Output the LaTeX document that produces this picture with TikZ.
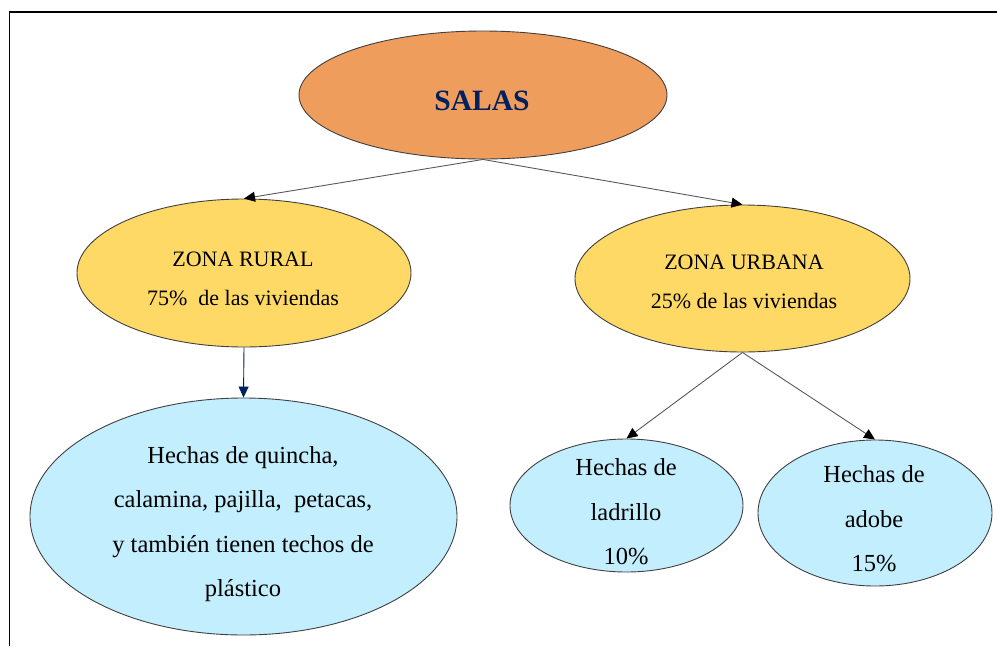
\documentclass[tikz,border=0pt]{standalone}
\usepackage{fontspec}
\setmainfont{Liberation Serif}
\usetikzlibrary{shapes.geometric,arrows.meta}
\definecolor{salasfill}{HTML}{EF9D5C}
\definecolor{zonafill}{HTML}{FFD966}
\definecolor{leaffill}{HTML}{C2EEFE}
\definecolor{navy}{HTML}{002060}
\definecolor{linkgray}{HTML}{595959}
\definecolor{outline}{HTML}{404040}
\begin{document}
\begin{tikzpicture}[x=1pt,y=-1pt,
  oval/.style={ellipse, draw=outline, line width=0.9pt, inner sep=0pt},
  zonatxt/.style={align=center, inner sep=0pt, font=\fontsize{22}{39.5}\selectfont},
  leaftxt/.style={align=center, inner sep=0pt, font=\fontsize{24.5}{44.5}\selectfont},
  link/.style={draw=linkgray, line width=0.9pt, -{Triangle[length=11pt,width=10pt,color=black]}},
  navylink/.style={draw=navy, line width=0.9pt, -{Triangle[length=11pt,width=10pt,color=navy]}},
  ]
\useasboundingbox (0,0) rectangle (997,646);
\draw[line width=1.3pt] (997,12) -- (9.5,12) -- (9.5,646);

% ellipses
\node[oval, fill=salasfill, minimum width=368pt, minimum height=128pt] (salas) at (483,95) {};
\node[oval, fill=zonafill, minimum width=334pt, minimum height=148pt] (rural) at (244,273) {};
\node[oval, fill=zonafill, minimum width=335pt, minimum height=147pt] (urbana) at (742.5,278.5) {};
\node[oval, fill=leaffill, minimum width=427pt, minimum height=237pt] (quincha) at (243.5,516.5) {};
\node[oval, fill=leaffill, minimum width=233pt, minimum height=133pt] (ladrillo) at (626.5,505.5) {};
\node[oval, fill=leaffill, minimum width=234pt, minimum height=146pt] (adobe) at (875,513) {};

% texts
\node[inner sep=0pt, text=navy, font=\fontsize{29.5}{34}\selectfont\bfseries] (salast) at (482,101) {SALAS};
\node[zonatxt] (ruralt) at (243,279) {ZONA RURAL\\75\%\ \ de las viviendas};
\node[zonatxt] (urbanat) at (744,282) {ZONA URBANA\\25\% de las viviendas};
\node[leaftxt] (quinchat) at (243,524) {Hechas de quincha,\\calamina, pajilla,\ \ petacas,\\y también tienen techos de\\plástico};
\node[leaftxt] (ladrillot) at (626,512) {Hechas de\\ladrillo\\10\%};
\node[leaftxt] (adobet) at (874,519) {Hechas de\\adobe\\15\%};

% connectors
\draw[link] (salas.south) -- (rural.north);
\draw[link] (salas.south) -- (urbana.north);
\draw[navylink] (rural.south) -- (quincha.north);
\draw[link] (urbana.south) -- (ladrillo.north);
\draw[link] (urbana.south) -- (adobe.north);
\end{tikzpicture}
\end{document}
